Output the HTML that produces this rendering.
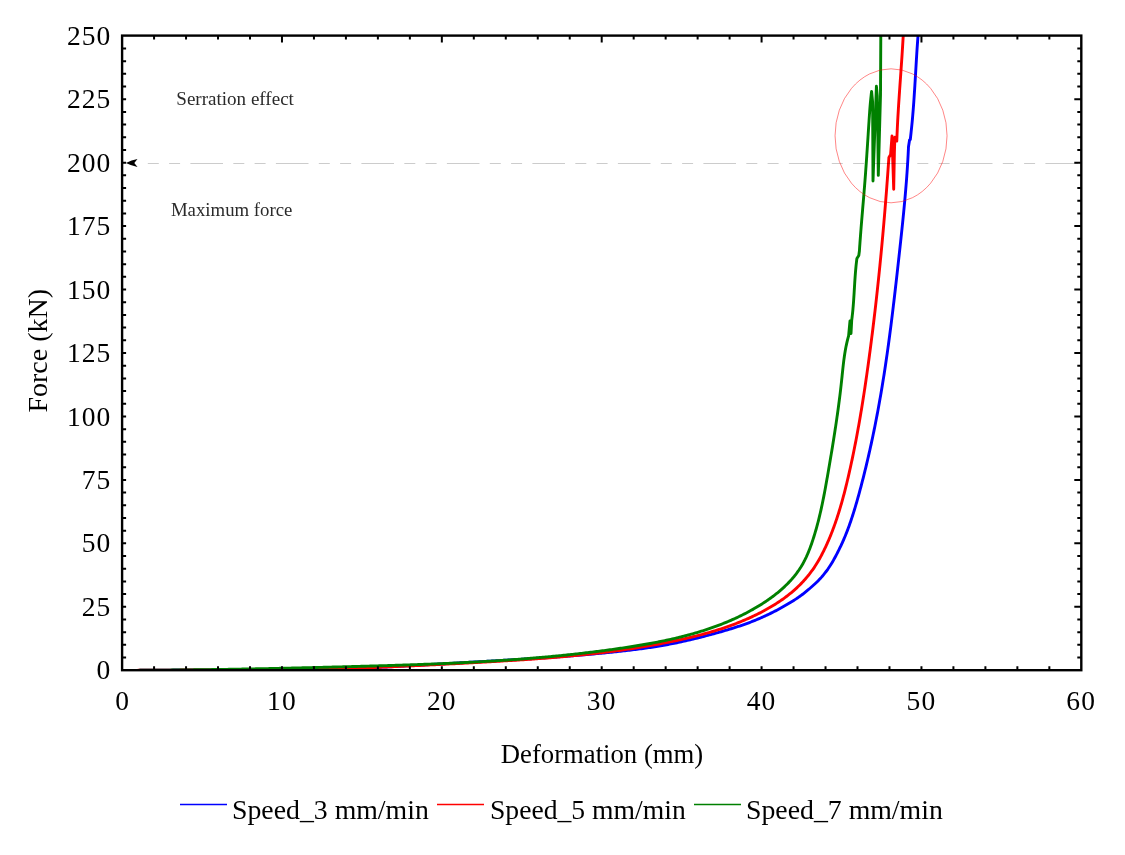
<!DOCTYPE html>
<html><head><meta charset="utf-8"><style>
html,body{margin:0;padding:0;background:#fff;}
body{width:1125px;height:855px;overflow:hidden;font-family:"Liberation Serif", serif;}
svg{display:block;will-change:transform;}
</style></head><body>
<svg width="1125" height="855" viewBox="0 0 1125 855"><defs><clipPath id="pc"><rect x="122.10" y="35.6" width="959.20" height="634.60"/></clipPath></defs>
<g fill="none" stroke-width="2.9" stroke-linejoin="round" stroke-linecap="butt" clip-path="url(#pc)">
<path d="M122.10,670.60 L123.60,670.57 L125.10,670.54 L126.59,670.52 L128.09,670.49 L129.59,670.46 L131.09,670.44 L132.59,670.42 L134.09,670.39 L135.58,670.37 L137.08,670.35 L138.58,670.33 L140.08,670.31 L141.58,670.30 L143.08,670.28 L144.58,670.26 L146.08,670.25 L147.58,670.23 L149.08,670.22 L150.58,670.20 L152.08,670.19 L153.58,670.18 L155.08,670.17 L156.58,670.16 L158.08,670.14 L159.58,670.14 L161.08,670.13 L162.58,670.12 L164.08,670.11 L165.58,670.10 L167.08,670.10 L168.58,670.09 L170.08,670.08 L171.59,670.08 L173.09,670.07 L174.59,670.07 L176.09,670.07 L177.59,670.06 L179.09,670.06 L180.59,670.06 L182.10,670.06 L183.60,670.05 L185.10,670.05 L186.60,670.05 L188.10,670.05 L189.61,670.05 L191.11,670.05 L192.61,670.05 L194.11,670.05 L195.61,670.05 L197.12,670.05 L198.62,670.05 L200.12,670.05 L201.62,670.06 L203.13,670.06 L204.63,670.06 L206.13,670.06 L207.64,670.06 L209.14,670.07 L210.64,670.07 L212.15,670.07 L213.65,670.07 L215.15,670.08 L216.66,670.08 L218.16,670.08 L219.66,670.08 L221.17,670.09 L222.67,670.09 L224.17,670.09 L225.68,670.09 L227.18,670.10 L228.68,670.10 L230.19,670.10 L231.69,670.10 L233.20,670.10 L234.70,670.10 L236.20,670.11 L237.71,670.11 L239.21,670.11 L240.72,670.11 L242.22,670.11 L243.73,670.11 L245.23,670.11 L246.73,670.11 L248.24,670.11 L249.74,670.11 L251.25,670.11 L252.75,670.11 L254.26,670.10 L255.76,670.10 L257.27,670.10 L258.77,670.10 L260.28,670.09 L261.78,670.09 L263.29,670.08 L264.79,670.08 L266.30,670.07 L267.80,670.07 L269.31,670.06 L270.81,670.06 L272.32,670.05 L273.82,670.04 L275.33,670.03 L276.83,670.02 L278.34,670.01 L279.84,670.00 L281.35,669.99 L282.85,669.98 L284.36,669.97 L285.86,669.95 L287.37,669.94 L288.87,669.92 L290.38,669.91 L291.89,669.89 L293.39,669.88 L294.90,669.86 L296.40,669.84 L297.91,669.82 L299.41,669.80 L300.92,669.78 L302.42,669.76 L303.93,669.74 L305.44,669.71 L306.94,669.69 L308.45,669.66 L309.95,669.64 L311.46,669.61 L312.96,669.58 L314.47,669.55 L315.97,669.52 L317.48,669.49 L318.99,669.46 L320.49,669.42 L322.00,669.39 L323.50,669.35 L325.01,669.32 L326.51,669.28 L328.02,669.24 L329.53,669.20 L331.03,669.16 L332.54,669.12 L334.04,669.07 L335.55,669.03 L337.05,668.98 L338.56,668.94 L340.06,668.89 L341.57,668.84 L343.08,668.79 L344.58,668.74 L346.09,668.68 L347.59,668.63 L349.10,668.58 L350.60,668.52 L352.11,668.47 L353.61,668.41 L355.12,668.35 L356.63,668.29 L358.13,668.23 L359.64,668.17 L361.14,668.11 L362.65,668.05 L364.15,667.98 L365.66,667.92 L367.16,667.85 L368.67,667.79 L370.17,667.72 L371.68,667.65 L373.18,667.59 L374.69,667.52 L376.19,667.45 L377.70,667.38 L379.20,667.31 L380.71,667.23 L382.21,667.16 L383.72,667.09 L385.22,667.01 L386.73,666.94 L388.23,666.86 L389.74,666.79 L391.24,666.71 L392.75,666.64 L394.25,666.56 L395.76,666.48 L397.26,666.40 L398.77,666.32 L400.27,666.24 L401.78,666.16 L403.28,666.08 L404.79,666.00 L406.29,665.92 L407.79,665.84 L409.30,665.76 L410.80,665.67 L412.31,665.59 L413.81,665.51 L415.32,665.42 L416.82,665.34 L418.32,665.26 L419.83,665.17 L421.33,665.09 L422.84,665.00 L424.34,664.92 L425.84,664.83 L427.35,664.74 L428.85,664.66 L430.35,664.57 L431.86,664.49 L433.36,664.40 L434.86,664.31 L436.37,664.22 L437.87,664.14 L439.37,664.05 L440.88,663.96 L442.38,663.87 L443.88,663.79 L445.39,663.70 L446.89,663.61 L448.39,663.52 L449.89,663.44 L451.40,663.35 L452.90,663.26 L454.40,663.17 L455.90,663.09 L457.41,663.00 L458.91,662.91 L460.41,662.82 L461.91,662.73 L463.41,662.65 L464.92,662.56 L466.42,662.47 L467.92,662.39 L469.42,662.30 L470.92,662.21 L472.42,662.13 L473.93,662.04 L475.43,661.95 L476.93,661.87 L478.43,661.78 L479.93,661.70 L481.43,661.61 L482.93,661.53 L484.43,661.44 L485.93,661.35 L487.44,661.27 L488.94,661.18 L490.44,661.10 L491.94,661.01 L493.44,660.93 L494.94,660.84 L496.44,660.75 L497.94,660.67 L499.44,660.58 L500.94,660.50 L502.44,660.41 L503.94,660.32 L505.44,660.23 L506.93,660.15 L508.43,660.06 L509.93,659.97 L511.43,659.88 L512.93,659.79 L514.43,659.71 L515.93,659.62 L517.43,659.53 L518.93,659.44 L520.42,659.35 L521.92,659.25 L523.42,659.16 L524.92,659.07 L526.42,658.98 L527.91,658.88 L529.41,658.79 L530.91,658.70 L532.41,658.60 L533.90,658.51 L535.40,658.41 L536.90,658.31 L538.40,658.22 L539.89,658.12 L541.39,658.02 L542.89,657.92 L544.38,657.82 L545.88,657.72 L547.37,657.62 L548.87,657.51 L550.37,657.41 L551.86,657.30 L553.36,657.20 L554.85,657.09 L556.35,656.99 L557.84,656.88 L559.34,656.77 L560.83,656.66 L562.33,656.55 L563.82,656.44 L565.32,656.32 L566.81,656.21 L568.31,656.10 L569.80,655.98 L571.30,655.86 L572.79,655.74 L574.28,655.62 L575.78,655.50 L577.27,655.38 L578.76,655.26 L580.26,655.13 L581.75,655.01 L583.24,654.88 L584.74,654.75 L586.23,654.63 L587.72,654.50 L589.21,654.36 L590.71,654.23 L592.20,654.10 L593.69,653.96 L595.18,653.82 L596.67,653.68 L598.16,653.54 L599.66,653.40 L601.15,653.26 L602.64,653.11 L604.13,652.97 L605.62,652.82 L607.11,652.67 L608.60,652.52 L610.09,652.37 L611.58,652.21 L613.07,652.06 L614.56,651.90 L616.05,651.74 L617.54,651.58 L619.03,651.42 L620.52,651.25 L622.00,651.09 L623.49,650.92 L624.98,650.75 L626.47,650.58 L627.96,650.40 L629.45,650.22 L630.93,650.04 L632.42,649.86 L633.91,649.68 L635.39,649.49 L636.88,649.30 L638.37,649.11 L639.86,648.91 L641.34,648.71 L642.83,648.51 L644.31,648.31 L645.80,648.10 L647.29,647.88 L648.77,647.67 L650.26,647.45 L651.74,647.22 L653.23,646.99 L654.71,646.76 L656.20,646.52 L657.68,646.28 L659.16,646.04 L660.65,645.79 L662.13,645.53 L663.62,645.27 L665.10,645.01 L666.58,644.74 L668.07,644.46 L669.55,644.18 L671.03,643.90 L672.51,643.61 L674.00,643.31 L675.48,643.01 L676.96,642.71 L678.44,642.40 L679.92,642.08 L681.40,641.76 L682.88,641.44 L684.36,641.11 L685.84,640.78 L687.31,640.44 L688.79,640.10 L690.27,639.75 L691.74,639.40 L693.22,639.05 L694.69,638.69 L696.16,638.33 L697.63,637.97 L699.10,637.60 L700.57,637.23 L702.04,636.85 L703.51,636.48 L704.97,636.10 L706.43,635.71 L707.90,635.33 L709.36,634.94 L710.82,634.55 L712.28,634.15 L713.73,633.76 L715.19,633.36 L716.64,632.95 L718.09,632.55 L719.54,632.14 L720.99,631.73 L722.44,631.32 L723.88,630.90 L725.32,630.48 L726.76,630.06 L728.20,629.63 L729.64,629.20 L731.07,628.76 L732.50,628.32 L733.93,627.87 L735.36,627.41 L736.79,626.96 L738.21,626.49 L739.63,626.02 L741.05,625.54 L742.46,625.06 L743.87,624.56 L745.28,624.06 L746.69,623.56 L748.10,623.04 L749.50,622.52 L750.90,621.99 L752.29,621.45 L753.69,620.90 L755.08,620.35 L756.47,619.78 L757.85,619.20 L759.23,618.62 L760.61,618.02 L761.99,617.42 L763.36,616.80 L764.73,616.18 L766.09,615.55 L767.45,614.90 L768.81,614.25 L770.16,613.59 L771.51,612.92 L772.86,612.24 L774.20,611.56 L775.53,610.87 L776.86,610.17 L778.19,609.46 L779.51,608.74 L780.83,608.02 L782.14,607.29 L783.45,606.55 L784.75,605.81 L786.05,605.06 L787.34,604.31 L788.62,603.55 L789.90,602.79 L791.17,602.02 L792.44,601.24 L793.70,600.45 L794.96,599.65 L796.20,598.84 L797.45,598.01 L798.68,597.16 L799.91,596.29 L801.13,595.40 L802.34,594.49 L803.55,593.56 L804.75,592.62 L805.93,591.66 L807.11,590.69 L808.28,589.72 L809.44,588.74 L810.59,587.76 L811.72,586.77 L812.84,585.78 L813.95,584.78 L815.05,583.77 L816.14,582.75 L817.21,581.72 L818.26,580.67 L819.30,579.60 L820.33,578.50 L821.34,577.39 L822.33,576.25 L823.30,575.09 L824.26,573.91 L825.20,572.71 L826.12,571.50 L827.02,570.27 L827.91,569.04 L828.77,567.79 L829.61,566.52 L830.43,565.26 L831.23,563.98 L832.01,562.70 L832.77,561.41 L833.51,560.12 L834.24,558.82 L834.95,557.51 L835.65,556.20 L836.35,554.88 L837.03,553.56 L837.71,552.23 L838.38,550.90 L839.05,549.56 L839.71,548.22 L840.36,546.87 L841.01,545.52 L841.64,544.16 L842.27,542.80 L842.89,541.43 L843.49,540.06 L844.09,538.69 L844.67,537.31 L845.24,535.93 L845.80,534.54 L846.36,533.15 L846.90,531.75 L847.44,530.36 L847.96,528.95 L848.49,527.55 L849.00,526.14 L849.50,524.73 L850.00,523.31 L850.50,521.90 L850.98,520.48 L851.46,519.05 L851.93,517.63 L852.40,516.20 L852.86,514.77 L853.32,513.34 L853.77,511.90 L854.21,510.46 L854.65,509.03 L855.09,507.58 L855.52,506.14 L855.95,504.70 L856.37,503.25 L856.79,501.80 L857.20,500.35 L857.61,498.90 L858.02,497.45 L858.42,496.00 L858.82,494.55 L859.22,493.09 L859.61,491.64 L860.00,490.18 L860.39,488.72 L860.78,487.27 L861.16,485.81 L861.54,484.35 L861.92,482.90 L862.30,481.44 L862.68,479.98 L863.05,478.52 L863.42,477.06 L863.79,475.60 L864.15,474.14 L864.52,472.68 L864.88,471.21 L865.23,469.75 L865.59,468.29 L865.95,466.83 L866.30,465.36 L866.65,463.90 L867.00,462.44 L867.34,460.97 L867.68,459.51 L868.02,458.04 L868.36,456.57 L868.70,455.11 L869.03,453.64 L869.37,452.17 L869.70,450.71 L870.03,449.24 L870.35,447.77 L870.67,446.30 L871.00,444.83 L871.32,443.36 L871.63,441.89 L871.95,440.42 L872.26,438.95 L872.57,437.48 L872.88,436.01 L873.19,434.54 L873.49,433.06 L873.80,431.59 L874.10,430.12 L874.40,428.64 L874.70,427.17 L874.99,425.70 L875.28,424.22 L875.57,422.75 L875.86,421.27 L876.15,419.80 L876.44,418.32 L876.72,416.85 L877.00,415.37 L877.28,413.89 L877.56,412.42 L877.84,410.94 L878.11,409.46 L878.38,407.98 L878.65,406.51 L878.92,405.03 L879.19,403.55 L879.45,402.07 L879.71,400.59 L879.98,399.11 L880.23,397.63 L880.49,396.15 L880.75,394.67 L881.00,393.19 L881.25,391.71 L881.51,390.23 L881.75,388.75 L882.00,387.26 L882.25,385.78 L882.49,384.30 L882.73,382.82 L882.97,381.33 L883.21,379.85 L883.45,378.37 L883.68,376.89 L883.92,375.40 L884.15,373.92 L884.38,372.43 L884.61,370.95 L884.84,369.46 L885.06,367.98 L885.29,366.50 L885.51,365.01 L885.73,363.52 L885.95,362.04 L886.17,360.55 L886.38,359.07 L886.60,357.58 L886.81,356.09 L887.03,354.61 L887.24,353.12 L887.45,351.63 L887.66,350.15 L887.87,348.66 L888.07,347.17 L888.28,345.68 L888.48,344.20 L888.68,342.71 L888.88,341.22 L889.08,339.73 L889.28,338.24 L889.48,336.75 L889.68,335.26 L889.87,333.77 L890.07,332.28 L890.26,330.79 L890.46,329.31 L890.65,327.82 L890.84,326.32 L891.03,324.83 L891.22,323.34 L891.40,321.85 L891.59,320.36 L891.78,318.87 L891.96,317.38 L892.15,315.89 L892.33,314.40 L892.51,312.91 L892.70,311.41 L892.88,309.92 L893.06,308.43 L893.24,306.94 L893.41,305.45 L893.59,303.95 L893.77,302.46 L893.95,300.97 L894.12,299.47 L894.30,297.98 L894.47,296.49 L894.65,294.99 L894.82,293.50 L895.00,292.01 L895.17,290.51 L895.34,289.02 L895.51,287.53 L895.68,286.03 L895.85,284.54 L896.02,283.04 L896.19,281.55 L896.36,280.05 L896.53,278.56 L896.70,277.06 L896.87,275.57 L897.04,274.07 L897.21,272.58 L897.37,271.08 L897.54,269.59 L897.71,268.09 L897.87,266.60 L898.04,265.10 L898.21,263.61 L898.37,262.11 L898.54,260.62 L898.71,259.12 L898.87,257.62 L899.04,256.13 L899.20,254.63 L899.37,253.13 L899.53,251.64 L899.70,250.14 L899.86,248.65 L900.03,247.15 L900.19,245.65 L900.35,244.16 L900.52,242.66 L900.68,241.16 L900.84,239.66 L901.00,238.17 L901.16,236.67 L901.32,235.17 L901.48,233.68 L901.64,232.18 L901.80,230.68 L901.96,229.18 L902.11,227.69 L902.27,226.19 L902.42,224.69 L902.58,223.19 L902.73,221.70 L902.88,220.20 L903.03,218.70 L903.18,217.20 L903.33,215.71 L903.48,214.21 L903.63,212.71 L903.77,211.21 L903.92,209.71 L904.06,208.22 L904.20,206.72 L904.34,205.22 L904.48,203.72 L904.62,202.22 L904.76,200.73 L904.89,199.23 L905.03,197.73 L905.16,196.23 L905.29,194.73 L905.42,193.24 L905.55,191.74 L905.68,190.24 L905.80,188.74 L905.92,187.24 L906.04,185.75 L906.16,184.25 L906.28,182.75 L906.40,181.25 L906.51,179.75 L906.62,178.25 L906.74,176.76 L906.84,175.26 L906.95,173.76 L907.06,172.26 L907.16,170.76 L907.26,169.27 L907.36,167.77 L907.45,166.27 L907.55,164.77 L907.64,163.27 L907.73,161.78 L907.82,160.28 L907.90,158.78 L907.99,157.28 L908.07,155.79 L908.15,154.29 L908.22,152.79 L908.29,151.29 L908.37,149.80 L908.43,148.30 L908.50,146.80 L909.60,139.80 L910.30,139.50 L910.80,135.00 L910.80,135.00 L910.97,133.48 L911.14,131.96 L911.30,130.45 L911.46,128.93 L911.62,127.41 L911.77,125.89 L911.92,124.37 L912.07,122.85 L912.21,121.33 L912.35,119.81 L912.49,118.29 L912.62,116.77 L912.75,115.25 L912.88,113.72 L913.01,112.20 L913.13,110.68 L913.25,109.16 L913.37,107.64 L913.48,106.11 L913.59,104.59 L913.71,103.07 L913.82,101.54 L913.92,100.02 L914.03,98.50 L914.13,96.97 L914.23,95.45 L914.33,93.93 L914.43,92.40 L914.53,90.88 L914.63,89.35 L914.72,87.83 L914.82,86.30 L914.91,84.78 L915.00,83.25 L915.10,81.73 L915.19,80.20 L915.28,78.68 L915.37,77.15 L915.46,75.63 L915.55,74.10 L915.64,72.58 L915.73,71.05 L915.82,69.53 L915.91,68.00 L916.00,66.48 L916.09,64.95 L916.18,63.43 L916.27,61.90 L916.36,60.38 L916.45,58.86 L916.55,57.33 L916.64,55.81 L916.74,54.28 L916.83,52.76 L916.93,51.23 L917.03,49.71 L917.13,48.19 L917.23,46.66 L917.34,45.14 L917.44,43.61 L917.55,42.09 L917.66,40.57 L917.77,39.05 L917.88,37.52 L918.00,36.00" stroke="#0000ff"/>
<path d="M122.10,670.50 L123.60,670.48 L125.09,670.46 L126.59,670.44 L128.09,670.43 L129.58,670.41 L131.08,670.39 L132.58,670.38 L134.07,670.36 L135.57,670.34 L137.07,670.33 L138.57,670.32 L140.07,670.30 L141.56,670.29 L143.06,670.28 L144.56,670.26 L146.06,670.25 L147.56,670.24 L149.06,670.23 L150.55,670.22 L152.05,670.21 L153.55,670.20 L155.05,670.19 L156.55,670.18 L158.05,670.17 L159.55,670.16 L161.05,670.15 L162.55,670.15 L164.05,670.14 L165.55,670.13 L167.05,670.12 L168.55,670.12 L170.05,670.11 L171.55,670.10 L173.05,670.10 L174.55,670.09 L176.06,670.09 L177.56,670.08 L179.06,670.08 L180.56,670.07 L182.06,670.07 L183.56,670.06 L185.06,670.06 L186.57,670.06 L188.07,670.05 L189.57,670.05 L191.07,670.04 L192.57,670.04 L194.08,670.04 L195.58,670.03 L197.08,670.03 L198.58,670.03 L200.09,670.02 L201.59,670.02 L203.09,670.02 L204.59,670.02 L206.10,670.01 L207.60,670.01 L209.10,670.01 L210.61,670.00 L212.11,670.00 L213.61,670.00 L215.12,669.99 L216.62,669.99 L218.13,669.99 L219.63,669.98 L221.13,669.98 L222.64,669.98 L224.14,669.97 L225.65,669.97 L227.15,669.97 L228.65,669.96 L230.16,669.96 L231.66,669.96 L233.17,669.95 L234.67,669.95 L236.18,669.94 L237.68,669.94 L239.19,669.93 L240.69,669.93 L242.20,669.92 L243.70,669.92 L245.21,669.91 L246.71,669.90 L248.22,669.90 L249.72,669.89 L251.23,669.88 L252.73,669.88 L254.24,669.87 L255.74,669.86 L257.25,669.85 L258.75,669.84 L260.26,669.83 L261.77,669.82 L263.27,669.81 L264.78,669.80 L266.28,669.79 L267.79,669.78 L269.30,669.77 L270.80,669.76 L272.31,669.75 L273.81,669.74 L275.32,669.72 L276.83,669.71 L278.33,669.69 L279.84,669.68 L281.34,669.67 L282.85,669.65 L284.36,669.63 L285.86,669.62 L287.37,669.60 L288.88,669.58 L290.38,669.56 L291.89,669.55 L293.40,669.53 L294.90,669.51 L296.41,669.49 L297.92,669.47 L299.42,669.44 L300.93,669.42 L302.44,669.40 L303.94,669.38 L305.45,669.35 L306.96,669.33 L308.46,669.30 L309.97,669.27 L311.48,669.25 L312.98,669.22 L314.49,669.19 L316.00,669.16 L317.50,669.13 L319.01,669.10 L320.52,669.07 L322.02,669.04 L323.53,669.01 L325.04,668.97 L326.54,668.94 L328.05,668.90 L329.56,668.87 L331.06,668.83 L332.57,668.79 L334.08,668.75 L335.59,668.71 L337.09,668.67 L338.60,668.63 L340.11,668.59 L341.61,668.55 L343.12,668.50 L344.63,668.46 L346.13,668.42 L347.64,668.37 L349.15,668.32 L350.65,668.28 L352.16,668.23 L353.67,668.18 L355.17,668.13 L356.68,668.08 L358.19,668.03 L359.69,667.98 L361.20,667.93 L362.71,667.87 L364.21,667.82 L365.72,667.77 L367.23,667.71 L368.73,667.66 L370.24,667.60 L371.75,667.54 L373.25,667.49 L374.76,667.43 L376.26,667.37 L377.77,667.31 L379.28,667.25 L380.78,667.19 L382.29,667.13 L383.80,667.07 L385.30,667.01 L386.81,666.94 L388.31,666.88 L389.82,666.82 L391.33,666.75 L392.83,666.69 L394.34,666.62 L395.84,666.56 L397.35,666.49 L398.85,666.42 L400.36,666.36 L401.86,666.29 L403.37,666.22 L404.88,666.15 L406.38,666.08 L407.89,666.01 L409.39,665.94 L410.90,665.87 L412.40,665.80 L413.91,665.73 L415.41,665.66 L416.92,665.59 L418.42,665.52 L419.93,665.44 L421.43,665.37 L422.94,665.30 L424.44,665.22 L425.94,665.15 L427.45,665.07 L428.95,665.00 L430.46,664.92 L431.96,664.85 L433.47,664.77 L434.97,664.69 L436.47,664.62 L437.98,664.54 L439.48,664.46 L440.99,664.39 L442.49,664.31 L443.99,664.23 L445.50,664.15 L447.00,664.07 L448.50,664.00 L450.01,663.92 L451.51,663.84 L453.01,663.76 L454.52,663.68 L456.02,663.60 L457.52,663.52 L459.02,663.44 L460.53,663.36 L462.03,663.28 L463.53,663.20 L465.03,663.12 L466.54,663.03 L468.04,662.95 L469.54,662.87 L471.04,662.79 L472.54,662.71 L474.04,662.63 L475.55,662.54 L477.05,662.46 L478.55,662.38 L480.05,662.30 L481.55,662.21 L483.05,662.13 L484.55,662.05 L486.05,661.96 L487.55,661.88 L489.05,661.80 L490.55,661.71 L492.05,661.62 L493.55,661.54 L495.05,661.45 L496.55,661.37 L498.05,661.28 L499.55,661.19 L501.05,661.10 L502.55,661.01 L504.05,660.92 L505.55,660.83 L507.05,660.74 L508.55,660.65 L510.05,660.56 L511.55,660.46 L513.04,660.37 L514.54,660.28 L516.04,660.18 L517.54,660.09 L519.04,659.99 L520.53,659.89 L522.03,659.79 L523.53,659.69 L525.03,659.59 L526.52,659.49 L528.02,659.39 L529.52,659.28 L531.01,659.18 L532.51,659.07 L534.01,658.97 L535.50,658.86 L537.00,658.75 L538.49,658.64 L539.99,658.53 L541.49,658.42 L542.98,658.31 L544.48,658.19 L545.97,658.08 L547.47,657.96 L548.96,657.84 L550.46,657.72 L551.95,657.60 L553.44,657.48 L554.94,657.35 L556.43,657.23 L557.93,657.10 L559.42,656.98 L560.91,656.85 L562.41,656.72 L563.90,656.58 L565.39,656.45 L566.88,656.31 L568.38,656.18 L569.87,656.04 L571.36,655.90 L572.85,655.76 L574.35,655.61 L575.84,655.47 L577.33,655.32 L578.82,655.17 L580.31,655.02 L581.80,654.87 L583.29,654.72 L584.78,654.56 L586.27,654.41 L587.76,654.25 L589.25,654.09 L590.74,653.92 L592.23,653.76 L593.72,653.59 L595.21,653.42 L596.70,653.25 L598.19,653.08 L599.68,652.90 L601.16,652.73 L602.65,652.55 L604.14,652.37 L605.63,652.18 L607.12,652.00 L608.60,651.81 L610.09,651.62 L611.58,651.43 L613.06,651.24 L614.55,651.04 L616.04,650.84 L617.52,650.64 L619.01,650.44 L620.49,650.23 L621.98,650.02 L623.46,649.81 L624.95,649.60 L626.43,649.38 L627.92,649.17 L629.40,648.95 L630.88,648.72 L632.37,648.50 L633.85,648.27 L635.33,648.04 L636.82,647.81 L638.30,647.57 L639.78,647.33 L641.27,647.09 L642.75,646.85 L644.23,646.60 L645.71,646.36 L647.19,646.10 L648.67,645.85 L650.15,645.59 L651.63,645.33 L653.12,645.07 L654.60,644.80 L656.08,644.54 L657.55,644.26 L659.03,643.99 L660.51,643.71 L661.99,643.43 L663.47,643.15 L664.95,642.86 L666.43,642.57 L667.91,642.28 L669.38,641.98 L670.86,641.69 L672.34,641.38 L673.81,641.08 L675.29,640.77 L676.77,640.46 L678.24,640.14 L679.72,639.82 L681.19,639.50 L682.66,639.18 L684.14,638.84 L685.61,638.51 L687.08,638.17 L688.55,637.83 L690.02,637.48 L691.48,637.13 L692.95,636.77 L694.42,636.41 L695.88,636.05 L697.34,635.67 L698.81,635.30 L700.27,634.92 L701.72,634.53 L703.18,634.14 L704.64,633.75 L706.09,633.34 L707.54,632.94 L708.99,632.53 L710.44,632.11 L711.89,631.68 L713.33,631.25 L714.77,630.82 L716.21,630.37 L717.65,629.93 L719.09,629.47 L720.52,629.01 L721.95,628.54 L723.38,628.07 L724.81,627.59 L726.23,627.10 L727.65,626.61 L729.07,626.11 L730.49,625.60 L731.90,625.08 L733.31,624.56 L734.72,624.03 L736.13,623.49 L737.53,622.95 L738.93,622.39 L740.32,621.83 L741.71,621.26 L743.10,620.69 L744.49,620.10 L745.87,619.51 L747.25,618.91 L748.63,618.30 L750.00,617.68 L751.37,617.06 L752.73,616.42 L754.09,615.78 L755.45,615.13 L756.81,614.47 L758.15,613.80 L759.50,613.12 L760.84,612.43 L762.18,611.73 L763.51,611.03 L764.84,610.31 L766.17,609.58 L767.48,608.85 L768.80,608.10 L770.10,607.34 L771.40,606.58 L772.70,605.80 L773.99,605.01 L775.27,604.21 L776.54,603.40 L777.80,602.58 L779.06,601.75 L780.31,600.91 L781.55,600.05 L782.79,599.19 L784.01,598.31 L785.22,597.42 L786.43,596.52 L787.62,595.60 L788.81,594.68 L789.98,593.74 L791.15,592.78 L792.30,591.82 L793.44,590.84 L794.57,589.85 L795.69,588.85 L796.80,587.83 L797.89,586.80 L798.97,585.75 L800.04,584.70 L801.10,583.62 L802.14,582.54 L803.17,581.44 L804.18,580.32 L805.18,579.20 L806.16,578.06 L807.14,576.91 L808.09,575.75 L809.03,574.58 L809.95,573.39 L810.86,572.20 L811.76,570.99 L812.63,569.78 L813.49,568.55 L814.33,567.32 L815.16,566.07 L815.96,564.82 L816.75,563.56 L817.53,562.29 L818.28,561.01 L819.02,559.72 L819.75,558.43 L820.46,557.13 L821.17,555.82 L821.86,554.51 L822.53,553.19 L823.20,551.87 L823.86,550.54 L824.51,549.20 L825.16,547.86 L825.79,546.52 L826.41,545.17 L827.03,543.81 L827.63,542.45 L828.23,541.09 L828.82,539.72 L829.40,538.34 L829.98,536.96 L830.54,535.58 L831.10,534.19 L831.65,532.80 L832.20,531.41 L832.73,530.01 L833.26,528.60 L833.78,527.20 L834.29,525.78 L834.80,524.37 L835.30,522.95 L835.79,521.53 L836.28,520.11 L836.76,518.68 L837.23,517.25 L837.70,515.81 L838.16,514.38 L838.62,512.94 L839.06,511.49 L839.51,510.05 L839.95,508.60 L840.38,507.15 L840.80,505.70 L841.23,504.25 L841.64,502.79 L842.05,501.33 L842.46,499.87 L842.86,498.41 L843.26,496.95 L843.65,495.48 L844.04,494.02 L844.42,492.55 L844.80,491.08 L845.17,489.61 L845.54,488.14 L845.91,486.66 L846.27,485.19 L846.63,483.72 L846.99,482.24 L847.34,480.77 L847.69,479.29 L848.04,477.81 L848.38,476.34 L848.72,474.86 L849.06,473.38 L849.39,471.91 L849.72,470.43 L850.05,468.95 L850.38,467.48 L850.70,466.00 L851.03,464.53 L851.35,463.05 L851.66,461.57 L851.98,460.10 L852.29,458.62 L852.60,457.14 L852.91,455.67 L853.21,454.19 L853.51,452.72 L853.81,451.24 L854.11,449.76 L854.41,448.29 L854.70,446.81 L854.99,445.33 L855.28,443.86 L855.57,442.38 L855.85,440.91 L856.13,439.43 L856.42,437.95 L856.69,436.48 L856.97,435.00 L857.24,433.52 L857.52,432.05 L857.79,430.57 L858.06,429.10 L858.32,427.62 L858.59,426.14 L858.85,424.66 L859.11,423.19 L859.37,421.71 L859.63,420.23 L859.88,418.76 L860.14,417.28 L860.39,415.80 L860.64,414.32 L860.89,412.85 L861.13,411.37 L861.38,409.89 L861.62,408.41 L861.86,406.93 L862.10,405.45 L862.34,403.98 L862.58,402.50 L862.81,401.02 L863.05,399.54 L863.28,398.06 L863.51,396.58 L863.74,395.10 L863.97,393.62 L864.20,392.14 L864.42,390.66 L864.65,389.18 L864.87,387.70 L865.09,386.22 L865.31,384.73 L865.53,383.25 L865.75,381.77 L865.97,380.29 L866.18,378.81 L866.40,377.32 L866.61,375.84 L866.82,374.36 L867.03,372.87 L867.24,371.39 L867.45,369.91 L867.66,368.42 L867.87,366.94 L868.07,365.45 L868.28,363.97 L868.48,362.48 L868.68,360.99 L868.89,359.51 L869.09,358.02 L869.29,356.54 L869.49,355.05 L869.69,353.56 L869.88,352.07 L870.08,350.58 L870.28,349.10 L870.47,347.61 L870.67,346.12 L870.86,344.63 L871.05,343.14 L871.24,341.65 L871.43,340.16 L871.62,338.67 L871.81,337.18 L872.00,335.69 L872.19,334.20 L872.38,332.70 L872.56,331.21 L872.75,329.72 L872.93,328.23 L873.11,326.74 L873.29,325.24 L873.48,323.75 L873.66,322.26 L873.84,320.76 L874.02,319.27 L874.19,317.78 L874.37,316.28 L874.55,314.79 L874.72,313.29 L874.90,311.80 L875.07,310.30 L875.24,308.81 L875.42,307.31 L875.59,305.82 L875.76,304.32 L875.93,302.83 L876.10,301.33 L876.27,299.83 L876.43,298.34 L876.60,296.84 L876.76,295.35 L876.93,293.85 L877.09,292.35 L877.26,290.85 L877.42,289.36 L877.58,287.86 L877.74,286.36 L877.90,284.87 L878.06,283.37 L878.22,281.87 L878.38,280.37 L878.54,278.87 L878.69,277.38 L878.85,275.88 L879.00,274.38 L879.16,272.88 L879.31,271.38 L879.46,269.88 L879.61,268.38 L879.77,266.89 L879.92,265.39 L880.06,263.89 L880.21,262.39 L880.36,260.89 L880.51,259.39 L880.66,257.89 L880.80,256.39 L880.95,254.89 L881.09,253.39 L881.23,251.89 L881.38,250.39 L881.52,248.89 L881.66,247.39 L881.80,245.89 L881.94,244.39 L882.08,242.89 L882.22,241.40 L882.36,239.90 L882.49,238.40 L882.63,236.90 L882.77,235.40 L882.90,233.90 L883.03,232.40 L883.17,230.90 L883.30,229.40 L883.43,227.90 L883.56,226.40 L883.70,224.90 L883.83,223.40 L883.95,221.90 L884.08,220.40 L884.21,218.90 L884.34,217.40 L884.47,215.90 L884.59,214.40 L884.72,212.90 L884.84,211.40 L884.97,209.90 L885.09,208.40 L885.21,206.91 L885.33,205.41 L885.45,203.91 L885.58,202.41 L885.70,200.91 L885.81,199.41 L885.93,197.91 L886.05,196.41 L886.17,194.92 L886.29,193.42 L886.40,191.92 L886.52,190.42 L886.63,188.92 L886.75,187.43 L886.86,185.93 L886.97,184.43 L887.08,182.93 L887.20,181.44 L887.31,179.94 L887.42,178.44 L887.53,176.94 L887.64,175.45 L887.75,173.95 L887.85,172.45 L887.96,170.96 L888.07,169.46 L888.17,167.97 L888.28,166.47 L888.38,164.98 L888.49,163.48 L888.59,161.98 L888.70,160.49 L888.80,158.99 L888.90,157.50 L890.60,154.60 L892.00,136.00 L893.70,189.30 L894.40,152.00 L894.90,137.20 L895.90,140.30 L896.80,141.00 L896.80,141.00 L896.85,139.48 L896.91,137.95 L896.97,136.43 L897.03,134.91 L897.09,133.38 L897.16,131.86 L897.22,130.34 L897.29,128.81 L897.36,127.29 L897.44,125.77 L897.51,124.24 L897.59,122.72 L897.67,121.20 L897.75,119.68 L897.84,118.16 L897.92,116.63 L898.01,115.11 L898.10,113.59 L898.19,112.07 L898.28,110.55 L898.37,109.02 L898.47,107.50 L898.56,105.98 L898.66,104.46 L898.76,102.94 L898.86,101.42 L898.96,99.89 L899.06,98.37 L899.16,96.85 L899.26,95.33 L899.36,93.81 L899.47,92.29 L899.57,90.77 L899.68,89.25 L899.78,87.73 L899.89,86.20 L900.00,84.68 L900.10,83.16 L900.21,81.64 L900.32,80.12 L900.42,78.60 L900.53,77.08 L900.64,75.56 L900.74,74.04 L900.85,72.52 L900.96,70.99 L901.06,69.47 L901.17,67.95 L901.27,66.43 L901.38,64.91 L901.48,63.39 L901.59,61.87 L901.69,60.35 L901.79,58.83 L901.90,57.30 L902.00,55.78 L902.10,54.26 L902.20,52.74 L902.29,51.22 L902.39,49.70 L902.49,48.18 L902.58,46.65 L902.67,45.13 L902.76,43.61 L902.85,42.09 L902.94,40.57 L903.03,39.04 L903.12,37.52 L903.20,36.00" stroke="#ff0000"/>
<path d="M122.10,670.40 L123.60,670.39 L125.10,670.39 L126.60,670.38 L128.10,670.38 L129.60,670.37 L131.10,670.36 L132.61,670.36 L134.11,670.35 L135.61,670.34 L137.11,670.33 L138.61,670.33 L140.11,670.32 L141.61,670.31 L143.12,670.30 L144.62,670.29 L146.12,670.28 L147.62,670.27 L149.12,670.26 L150.62,670.25 L152.13,670.24 L153.63,670.23 L155.13,670.22 L156.63,670.20 L158.13,670.19 L159.64,670.18 L161.14,670.17 L162.64,670.15 L164.14,670.14 L165.64,670.13 L167.15,670.11 L168.65,670.10 L170.15,670.08 L171.65,670.07 L173.16,670.05 L174.66,670.04 L176.16,670.02 L177.67,670.01 L179.17,669.99 L180.67,669.97 L182.17,669.96 L183.68,669.94 L185.18,669.92 L186.68,669.90 L188.19,669.89 L189.69,669.87 L191.19,669.85 L192.70,669.83 L194.20,669.81 L195.70,669.79 L197.21,669.77 L198.71,669.75 L200.21,669.73 L201.72,669.71 L203.22,669.69 L204.72,669.67 L206.23,669.65 L207.73,669.63 L209.23,669.61 L210.74,669.59 L212.24,669.56 L213.75,669.54 L215.25,669.52 L216.75,669.50 L218.26,669.47 L219.76,669.45 L221.26,669.42 L222.77,669.40 L224.27,669.38 L225.78,669.35 L227.28,669.33 L228.79,669.30 L230.29,669.28 L231.79,669.25 L233.30,669.23 L234.80,669.20 L236.31,669.18 L237.81,669.15 L239.31,669.12 L240.82,669.10 L242.32,669.07 L243.83,669.04 L245.33,669.01 L246.84,668.99 L248.34,668.96 L249.84,668.93 L251.35,668.90 L252.85,668.87 L254.36,668.84 L255.86,668.82 L257.37,668.79 L258.87,668.76 L260.38,668.73 L261.88,668.70 L263.39,668.67 L264.89,668.64 L266.39,668.61 L267.90,668.58 L269.40,668.55 L270.91,668.51 L272.41,668.48 L273.92,668.45 L275.42,668.42 L276.93,668.39 L278.43,668.36 L279.94,668.32 L281.44,668.29 L282.95,668.26 L284.45,668.22 L285.95,668.19 L287.46,668.16 L288.96,668.12 L290.47,668.09 L291.97,668.06 L293.48,668.02 L294.98,667.99 L296.49,667.95 L297.99,667.92 L299.50,667.88 L301.00,667.85 L302.51,667.81 L304.01,667.78 L305.52,667.74 L307.02,667.71 L308.53,667.67 L310.03,667.64 L311.53,667.60 L313.04,667.56 L314.54,667.53 L316.05,667.49 L317.55,667.45 L319.06,667.42 L320.56,667.38 L322.07,667.34 L323.57,667.30 L325.08,667.26 L326.58,667.23 L328.08,667.19 L329.59,667.15 L331.09,667.11 L332.60,667.07 L334.10,667.03 L335.61,667.00 L337.11,666.96 L338.62,666.92 L340.12,666.88 L341.63,666.84 L343.13,666.80 L344.63,666.76 L346.14,666.72 L347.64,666.68 L349.15,666.64 L350.65,666.60 L352.16,666.56 L353.66,666.52 L355.16,666.48 L356.67,666.43 L358.17,666.39 L359.68,666.35 L361.18,666.31 L362.68,666.27 L364.19,666.23 L365.69,666.19 L367.20,666.14 L368.70,666.10 L370.20,666.06 L371.71,666.02 L373.21,665.97 L374.72,665.93 L376.22,665.89 L377.72,665.84 L379.23,665.80 L380.73,665.75 L382.23,665.71 L383.74,665.67 L385.24,665.62 L386.74,665.58 L388.25,665.53 L389.75,665.48 L391.25,665.44 L392.76,665.39 L394.26,665.34 L395.76,665.30 L397.27,665.25 L398.77,665.20 L400.27,665.15 L401.78,665.10 L403.28,665.05 L404.78,665.00 L406.29,664.95 L407.79,664.90 L409.29,664.85 L410.80,664.80 L412.30,664.75 L413.80,664.70 L415.30,664.64 L416.81,664.59 L418.31,664.54 L419.81,664.48 L421.31,664.43 L422.82,664.37 L424.32,664.32 L425.82,664.26 L427.32,664.20 L428.83,664.14 L430.33,664.08 L431.83,664.03 L433.33,663.97 L434.83,663.91 L436.34,663.84 L437.84,663.78 L439.34,663.72 L440.84,663.66 L442.34,663.59 L443.84,663.53 L445.35,663.47 L446.85,663.40 L448.35,663.33 L449.85,663.27 L451.35,663.20 L452.85,663.13 L454.35,663.06 L455.85,662.99 L457.36,662.92 L458.86,662.85 L460.36,662.77 L461.86,662.70 L463.36,662.63 L464.86,662.55 L466.36,662.48 L467.86,662.40 L469.36,662.32 L470.86,662.24 L472.36,662.16 L473.86,662.08 L475.36,662.00 L476.86,661.92 L478.36,661.84 L479.86,661.75 L481.36,661.67 L482.86,661.58 L484.36,661.50 L485.86,661.41 L487.36,661.32 L488.86,661.23 L490.36,661.14 L491.86,661.05 L493.36,660.96 L494.86,660.86 L496.36,660.77 L497.86,660.67 L499.35,660.58 L500.85,660.48 L502.35,660.38 L503.85,660.28 L505.35,660.18 L506.85,660.08 L508.35,659.97 L509.84,659.87 L511.34,659.76 L512.84,659.66 L514.34,659.55 L515.84,659.44 L517.33,659.33 L518.83,659.22 L520.33,659.11 L521.83,658.99 L523.32,658.88 L524.82,658.76 L526.32,658.64 L527.82,658.52 L529.31,658.40 L530.81,658.28 L532.31,658.16 L533.80,658.04 L535.30,657.91 L536.80,657.78 L538.29,657.66 L539.79,657.53 L541.29,657.40 L542.78,657.27 L544.28,657.13 L545.77,657.00 L547.27,656.86 L548.77,656.73 L550.26,656.59 L551.76,656.45 L553.25,656.30 L554.75,656.16 L556.24,656.02 L557.74,655.87 L559.23,655.72 L560.73,655.58 L562.22,655.43 L563.72,655.27 L565.21,655.12 L566.71,654.97 L568.20,654.81 L569.69,654.65 L571.19,654.49 L572.68,654.33 L574.18,654.17 L575.67,654.00 L577.16,653.84 L578.66,653.67 L580.15,653.50 L581.64,653.33 L583.14,653.16 L584.63,652.99 L586.12,652.81 L587.61,652.64 L589.11,652.46 L590.60,652.28 L592.09,652.09 L593.58,651.91 L595.08,651.73 L596.57,651.54 L598.06,651.35 L599.55,651.16 L601.04,650.97 L602.53,650.77 L604.03,650.58 L605.52,650.38 L607.01,650.18 L608.50,649.98 L609.99,649.78 L611.48,649.57 L612.97,649.37 L614.46,649.16 L615.95,648.95 L617.44,648.73 L618.93,648.52 L620.42,648.31 L621.91,648.09 L623.40,647.87 L624.89,647.65 L626.38,647.42 L627.87,647.20 L629.36,646.97 L630.85,646.74 L632.33,646.50 L633.82,646.27 L635.31,646.03 L636.79,645.79 L638.28,645.54 L639.77,645.30 L641.25,645.05 L642.74,644.79 L644.22,644.54 L645.70,644.28 L647.19,644.02 L648.67,643.75 L650.15,643.48 L651.63,643.21 L653.11,642.93 L654.59,642.65 L656.07,642.37 L657.54,642.08 L659.02,641.79 L660.49,641.49 L661.97,641.19 L663.44,640.88 L664.91,640.58 L666.38,640.26 L667.85,639.95 L669.32,639.62 L670.79,639.30 L672.26,638.96 L673.72,638.63 L675.19,638.29 L676.65,637.94 L678.11,637.59 L679.57,637.23 L681.03,636.87 L682.49,636.51 L683.94,636.13 L685.40,635.76 L686.85,635.37 L688.30,634.98 L689.75,634.59 L691.20,634.19 L692.65,633.78 L694.09,633.37 L695.54,632.95 L696.98,632.53 L698.42,632.10 L699.86,631.66 L701.29,631.22 L702.73,630.77 L704.16,630.31 L705.59,629.85 L707.02,629.38 L708.45,628.91 L709.87,628.42 L711.29,627.93 L712.71,627.44 L714.13,626.93 L715.54,626.42 L716.96,625.90 L718.36,625.38 L719.77,624.85 L721.17,624.30 L722.57,623.76 L723.97,623.20 L725.37,622.64 L726.76,622.07 L728.15,621.49 L729.53,620.90 L730.91,620.30 L732.29,619.70 L733.66,619.09 L735.03,618.47 L736.40,617.84 L737.76,617.20 L739.12,616.56 L740.48,615.90 L741.83,615.24 L743.18,614.57 L744.52,613.89 L745.86,613.20 L747.19,612.50 L748.52,611.79 L749.85,611.07 L751.17,610.34 L752.49,609.61 L753.80,608.86 L755.10,608.11 L756.41,607.34 L757.70,606.57 L759.00,605.78 L760.28,604.99 L761.57,604.19 L762.84,603.37 L764.11,602.55 L765.38,601.71 L766.63,600.87 L767.88,600.01 L769.12,599.14 L770.36,598.27 L771.58,597.38 L772.80,596.48 L774.00,595.57 L775.20,594.64 L776.38,593.71 L777.56,592.76 L778.72,591.81 L779.87,590.84 L781.01,589.86 L782.14,588.86 L783.26,587.86 L784.36,586.84 L785.44,585.81 L786.51,584.76 L787.57,583.71 L788.62,582.64 L789.64,581.56 L790.65,580.46 L791.65,579.35 L792.62,578.23 L793.58,577.09 L794.53,575.95 L795.45,574.78 L796.36,573.61 L797.24,572.41 L798.11,571.21 L798.96,569.99 L799.78,568.75 L800.59,567.51 L801.37,566.24 L802.14,564.96 L802.88,563.67 L803.60,562.36 L804.30,561.04 L804.98,559.71 L805.63,558.36 L806.28,557.01 L806.90,555.64 L807.51,554.26 L808.10,552.87 L808.67,551.48 L809.23,550.08 L809.77,548.67 L810.31,547.25 L810.83,545.83 L811.33,544.40 L811.83,542.97 L812.32,541.54 L812.79,540.10 L813.26,538.67 L813.72,537.23 L814.17,535.79 L814.61,534.34 L815.05,532.90 L815.47,531.45 L815.89,530.01 L816.30,528.56 L816.71,527.11 L817.10,525.66 L817.49,524.20 L817.87,522.75 L818.25,521.29 L818.62,519.84 L818.98,518.38 L819.34,516.92 L819.69,515.46 L820.03,514.00 L820.37,512.53 L820.71,511.07 L821.03,509.60 L821.36,508.14 L821.68,506.67 L821.99,505.20 L822.30,503.73 L822.60,502.26 L822.91,500.79 L823.20,499.31 L823.50,497.84 L823.79,496.37 L824.07,494.89 L824.35,493.42 L824.63,491.94 L824.91,490.46 L825.19,488.99 L825.46,487.51 L825.73,486.03 L825.99,484.55 L826.26,483.07 L826.52,481.59 L826.79,480.11 L827.05,478.62 L827.31,477.14 L827.56,475.66 L827.82,474.18 L828.08,472.69 L828.33,471.21 L828.59,469.73 L828.84,468.24 L829.10,466.76 L829.35,465.27 L829.61,463.79 L829.86,462.30 L830.11,460.82 L830.36,459.33 L830.61,457.84 L830.86,456.36 L831.11,454.87 L831.36,453.38 L831.60,451.90 L831.85,450.41 L832.09,448.92 L832.34,447.44 L832.58,445.95 L832.82,444.46 L833.06,442.97 L833.30,441.48 L833.54,440.00 L833.77,438.51 L834.01,437.02 L834.24,435.53 L834.48,434.04 L834.71,432.55 L834.94,431.06 L835.16,429.57 L835.39,428.09 L835.62,426.60 L835.84,425.11 L836.06,423.62 L836.28,422.13 L836.50,420.64 L836.72,419.15 L836.93,417.66 L837.14,416.17 L837.36,414.68 L837.56,413.19 L837.77,411.70 L837.98,410.22 L838.18,408.73 L838.38,407.24 L838.58,405.75 L838.78,404.26 L838.97,402.77 L839.17,401.28 L839.36,399.79 L839.55,398.30 L839.73,396.82 L839.92,395.33 L840.10,393.84 L840.28,392.35 L840.46,390.86 L840.63,389.38 L840.80,387.89 L840.97,386.40 L841.14,384.91 L841.30,383.43 L841.47,381.94 L841.63,380.45 L841.78,378.97 L841.94,377.48 L842.09,376.00 L842.24,374.51 L842.39,373.02 L842.55,371.54 L842.70,370.05 L842.86,368.57 L843.02,367.09 L843.19,365.60 L843.36,364.12 L843.54,362.64 L843.72,361.15 L843.91,359.67 L844.11,358.19 L844.31,356.71 L844.53,355.22 L844.76,353.74 L845.00,352.26 L845.25,350.78 L845.51,349.30 L845.79,347.82 L846.08,346.34 L846.39,344.86 L846.71,343.38 L847.05,341.91 L847.41,340.43 L847.79,338.95 L848.18,337.48 L848.60,336.00 L850.00,321.00 L851.00,333.50 L851.70,320.30 L851.70,320.30 L851.90,318.76 L852.09,317.22 L852.27,315.68 L852.45,314.14 L852.61,312.60 L852.76,311.06 L852.91,309.52 L853.04,307.97 L853.18,306.43 L853.30,304.88 L853.42,303.34 L853.53,301.79 L853.64,300.24 L853.75,298.70 L853.85,297.15 L853.95,295.60 L854.05,294.05 L854.14,292.51 L854.23,290.96 L854.33,289.41 L854.42,287.86 L854.51,286.31 L854.61,284.76 L854.70,283.21 L854.80,281.67 L854.90,280.12 L855.00,278.57 L855.11,277.02 L855.22,275.48 L855.34,273.93 L855.46,272.38 L855.59,270.84 L855.72,269.29 L855.87,267.75 L856.02,266.20 L856.17,264.66 L856.34,263.12 L856.52,261.58 L856.70,260.04 L856.90,258.50 L858.80,255.50 L859.40,251.00 L859.40,251.00 L859.50,249.48 L859.60,247.96 L859.70,246.45 L859.81,244.93 L859.92,243.41 L860.02,241.89 L860.13,240.37 L860.25,238.85 L860.36,237.34 L860.47,235.82 L860.59,234.30 L860.71,232.78 L860.83,231.26 L860.95,229.74 L861.07,228.22 L861.19,226.70 L861.31,225.18 L861.44,223.66 L861.56,222.14 L861.68,220.62 L861.81,219.11 L861.94,217.59 L862.06,216.07 L862.19,214.55 L862.32,213.03 L862.45,211.51 L862.57,209.99 L862.70,208.47 L862.83,206.95 L862.96,205.43 L863.09,203.91 L863.22,202.39 L863.34,200.87 L863.47,199.35 L863.60,197.83 L863.72,196.31 L863.85,194.78 L863.98,193.26 L864.10,191.74 L864.22,190.22 L864.35,188.70 L864.47,187.18 L864.59,185.66 L864.71,184.14 L864.83,182.62 L864.95,181.10 L865.06,179.58 L865.18,178.06 L865.29,176.54 L865.41,175.02 L865.52,173.50 L865.63,171.98 L865.74,170.46 L865.85,168.94 L865.96,167.42 L866.07,165.90 L866.17,164.38 L866.28,162.86 L866.39,161.34 L866.49,159.82 L866.59,158.30 L866.70,156.78 L866.80,155.26 L866.90,153.74 L867.00,152.22 L867.11,150.70 L867.21,149.18 L867.31,147.66 L867.41,146.14 L867.51,144.62 L867.60,143.10 L867.70,141.58 L867.80,140.06 L867.90,138.54 L868.00,137.02 L868.10,135.51 L868.19,133.99 L868.29,132.47 L868.39,130.95 L868.49,129.43 L868.58,127.91 L868.68,126.39 L868.78,124.87 L868.88,123.36 L868.98,121.84 L869.07,120.32 L869.17,118.80 L869.27,117.28 L869.38,115.77 L869.48,114.25 L869.59,112.73 L869.70,111.21 L869.81,109.70 L869.93,108.18 L870.05,106.66 L870.17,105.15 L870.31,103.63 L870.44,102.11 L870.59,100.60 L870.74,99.08 L870.89,97.56 L871.06,96.05 L871.23,94.53 L871.41,93.02 L871.60,91.50 L872.60,102.00 L873.00,181.00 L876.40,86.30 L877.30,96.00 L878.30,175.40 L880.50,95.00 L880.80,36.00" stroke="#008000"/>
</g>
<line x1="147.8" y1="163.5" x2="1080" y2="163.5" stroke="#000" stroke-opacity="0.2" stroke-width="1" stroke-dasharray="11 10.3 11 10.3 32.6 10.3" />
<path d="M125.9,163.05 Q131.5,160.2 137.5,159.1 L134.3,163.05 L137.5,167.0 Q131.5,165.9 125.9,163.05 Z" fill="#000"/>
<ellipse cx="891.05" cy="135.8" rx="56.0" ry="67.0" fill="none" stroke="#ff0000" stroke-opacity="0.5" stroke-width="0.95"/>
<path d="M154.07,670.20 V666.20 M154.07,35.6 V39.60 M186.05,670.20 V666.20 M186.05,35.6 V39.60 M218.02,670.20 V666.20 M218.02,35.6 V39.60 M250.00,670.20 V666.20 M250.00,35.6 V39.60 M281.97,670.20 V666.20 M281.97,35.6 V42.60 M313.94,670.20 V666.20 M313.94,35.6 V39.60 M345.92,670.20 V666.20 M345.92,35.6 V39.60 M377.89,670.20 V666.20 M377.89,35.6 V39.60 M409.87,670.20 V666.20 M409.87,35.6 V39.60 M441.84,670.20 V666.20 M441.84,35.6 V42.60 M473.81,670.20 V666.20 M473.81,35.6 V39.60 M505.79,670.20 V666.20 M505.79,35.6 V39.60 M537.76,670.20 V666.20 M537.76,35.6 V39.60 M569.74,670.20 V666.20 M569.74,35.6 V39.60 M601.71,670.20 V666.20 M601.71,35.6 V42.60 M633.68,670.20 V666.20 M633.68,35.6 V39.60 M665.66,670.20 V666.20 M665.66,35.6 V39.60 M697.63,670.20 V666.20 M697.63,35.6 V39.60 M729.61,670.20 V666.20 M729.61,35.6 V39.60 M761.58,670.20 V666.20 M761.58,35.6 V42.60 M793.55,670.20 V666.20 M793.55,35.6 V39.60 M825.53,670.20 V666.20 M825.53,35.6 V39.60 M857.50,670.20 V666.20 M857.50,35.6 V39.60 M889.48,670.20 V666.20 M889.48,35.6 V39.60 M921.45,670.20 V666.20 M921.45,35.6 V42.60 M953.42,670.20 V666.20 M953.42,35.6 V39.60 M985.40,670.20 V666.20 M985.40,35.6 V39.60 M1017.37,670.20 V666.20 M1017.37,35.6 V39.60 M1049.35,670.20 V666.20 M1049.35,35.6 V39.60 M122.10,657.51 H126.10 M1081.3,657.51 H1077.30 M122.10,644.82 H126.10 M1081.3,644.82 H1077.30 M122.10,632.14 H126.10 M1081.3,632.14 H1077.30 M122.10,619.45 H126.10 M1081.3,619.45 H1077.30 M122.10,606.76 H126.10 M1081.3,606.76 H1074.30 M122.10,594.07 H126.10 M1081.3,594.07 H1077.30 M122.10,581.38 H126.10 M1081.3,581.38 H1077.30 M122.10,568.70 H126.10 M1081.3,568.70 H1077.30 M122.10,556.01 H126.10 M1081.3,556.01 H1077.30 M122.10,543.32 H126.10 M1081.3,543.32 H1074.30 M122.10,530.63 H126.10 M1081.3,530.63 H1077.30 M122.10,517.94 H126.10 M1081.3,517.94 H1077.30 M122.10,505.26 H126.10 M1081.3,505.26 H1077.30 M122.10,492.57 H126.10 M1081.3,492.57 H1077.30 M122.10,479.88 H126.10 M1081.3,479.88 H1074.30 M122.10,467.19 H126.10 M1081.3,467.19 H1077.30 M122.10,454.50 H126.10 M1081.3,454.50 H1077.30 M122.10,441.82 H126.10 M1081.3,441.82 H1077.30 M122.10,429.13 H126.10 M1081.3,429.13 H1077.30 M122.10,416.44 H126.10 M1081.3,416.44 H1074.30 M122.10,403.75 H126.10 M1081.3,403.75 H1077.30 M122.10,391.06 H126.10 M1081.3,391.06 H1077.30 M122.10,378.38 H126.10 M1081.3,378.38 H1077.30 M122.10,365.69 H126.10 M1081.3,365.69 H1077.30 M122.10,353.00 H126.10 M1081.3,353.00 H1074.30 M122.10,340.31 H126.10 M1081.3,340.31 H1077.30 M122.10,327.62 H126.10 M1081.3,327.62 H1077.30 M122.10,314.94 H126.10 M1081.3,314.94 H1077.30 M122.10,302.25 H126.10 M1081.3,302.25 H1077.30 M122.10,289.56 H126.10 M1081.3,289.56 H1074.30 M122.10,276.87 H126.10 M1081.3,276.87 H1077.30 M122.10,264.18 H126.10 M1081.3,264.18 H1077.30 M122.10,251.50 H126.10 M1081.3,251.50 H1077.30 M122.10,238.81 H126.10 M1081.3,238.81 H1077.30 M122.10,226.12 H126.10 M1081.3,226.12 H1074.30 M122.10,213.43 H126.10 M1081.3,213.43 H1077.30 M122.10,200.74 H126.10 M1081.3,200.74 H1077.30 M122.10,188.06 H126.10 M1081.3,188.06 H1077.30 M122.10,175.37 H126.10 M1081.3,175.37 H1077.30 M122.10,162.68 H126.10 M1081.3,162.68 H1074.30 M122.10,149.99 H126.10 M1081.3,149.99 H1077.30 M122.10,137.30 H126.10 M1081.3,137.30 H1077.30 M122.10,124.62 H126.10 M1081.3,124.62 H1077.30 M122.10,111.93 H126.10 M1081.3,111.93 H1077.30 M122.10,99.24 H126.10 M1081.3,99.24 H1074.30 M122.10,86.55 H126.10 M1081.3,86.55 H1077.30 M122.10,73.86 H126.10 M1081.3,73.86 H1077.30 M122.10,61.18 H126.10 M1081.3,61.18 H1077.30 M122.10,48.49 H126.10 M1081.3,48.49 H1077.30" stroke="#000" stroke-width="2" fill="none"/>
<rect x="122.10" y="35.6" width="959.20" height="634.60" fill="none" stroke="#000" stroke-width="2.4"/>
<g font-family='"Liberation Serif", serif' font-size="27.5" fill="#000"><text x="111.2" y="679.30" text-anchor="end" letter-spacing="1">0</text><text x="111.2" y="615.86" text-anchor="end" letter-spacing="1">25</text><text x="111.2" y="552.42" text-anchor="end" letter-spacing="1">50</text><text x="111.2" y="488.98" text-anchor="end" letter-spacing="1">75</text><text x="111.2" y="425.54" text-anchor="end" letter-spacing="1">100</text><text x="111.2" y="362.10" text-anchor="end" letter-spacing="1">125</text><text x="111.2" y="298.66" text-anchor="end" letter-spacing="1">150</text><text x="111.2" y="235.22" text-anchor="end" letter-spacing="1">175</text><text x="111.2" y="171.78" text-anchor="end" letter-spacing="1">200</text><text x="111.2" y="108.34" text-anchor="end" letter-spacing="1">225</text><text x="111.2" y="44.90" text-anchor="end" letter-spacing="1">250</text><text x="122.10" y="709.6" text-anchor="middle" letter-spacing="0">0</text><text x="281.97" y="709.6" text-anchor="middle" letter-spacing="1.2">10</text><text x="441.84" y="709.6" text-anchor="middle" letter-spacing="1.2">20</text><text x="601.71" y="709.6" text-anchor="middle" letter-spacing="1.2">30</text><text x="761.58" y="709.6" text-anchor="middle" letter-spacing="1.2">40</text><text x="921.45" y="709.6" text-anchor="middle" letter-spacing="1.2">50</text><text x="1081.32" y="709.6" text-anchor="middle" letter-spacing="1.2">60</text></g>
<text x="500.8" y="762.8" font-family='"Liberation Serif", serif' font-size="27.5" textLength="202.4" lengthAdjust="spacingAndGlyphs">Deformation (mm)</text>
<text transform="translate(47,412.6) rotate(-90)" font-family='"Liberation Serif", serif' font-size="27.5" textLength="123.6" lengthAdjust="spacingAndGlyphs">Force (kN)</text>
<text x="176.3" y="104.9" font-family='"Liberation Serif", serif' font-size="18.5" fill="#2a2a2a" textLength="117.6" lengthAdjust="spacingAndGlyphs">Serration effect</text>
<text x="170.9" y="216.2" font-family='"Liberation Serif", serif' font-size="18" fill="#2a2a2a" textLength="121.5" lengthAdjust="spacingAndGlyphs">Maximum force</text>
<line x1="180" y1="804.4" x2="227" y2="804.4" stroke="#0000ff" stroke-width="1.5"/>
<text x="232" y="819.3" font-family='"Liberation Serif", serif' font-size="27.5" textLength="196.8" lengthAdjust="spacingAndGlyphs">Speed_3 mm/min</text>
<line x1="437" y1="804.4" x2="484" y2="804.4" stroke="#ff0000" stroke-width="1.5"/>
<text x="490" y="819.3" font-family='"Liberation Serif", serif' font-size="27.5" textLength="195.8" lengthAdjust="spacingAndGlyphs">Speed_5 mm/min</text>
<line x1="694" y1="804.4" x2="741" y2="804.4" stroke="#008000" stroke-width="1.5"/>
<text x="746" y="819.3" font-family='"Liberation Serif", serif' font-size="27.5" textLength="196.8" lengthAdjust="spacingAndGlyphs">Speed_7 mm/min</text></svg>
</body></html>
